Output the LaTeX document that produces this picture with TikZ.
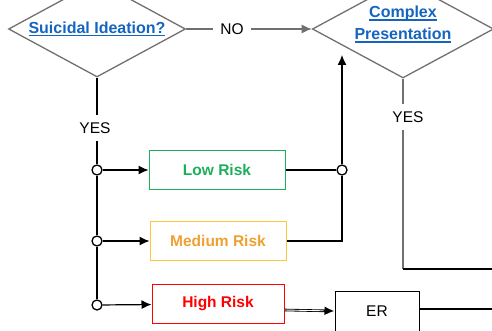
\documentclass[tikz,border=0pt]{standalone}
\usepackage{fontspec}
\setmainfont{Liberation Sans}
\usetikzlibrary{shapes.geometric,arrows.meta}

\definecolor{linkblue}{HTML}{1565C0}
\definecolor{lowgreen}{HTML}{1DAE5A}
\definecolor{medtext}{HTML}{F0A030}
\definecolor{medline}{HTML}{F9C93C}
\definecolor{highred}{HTML}{FF0000}
\definecolor{flowgray}{HTML}{707070}

\newcommand{\flowsize}{\fontsize{15.5}{22}\selectfont}
\newsavebox{\linkbox}
\newcommand{\linktext}[1]{\textcolor{linkblue}{\sbox{\linkbox}{#1}\rlap{\rule[-3pt]{\wd\linkbox}{1.4pt}}\usebox{\linkbox}}}

\tikzset{
    question/.style={diamond, draw=flowgray, line width=1.3pt, inner sep=0pt, aspect=1.85,
        minimum width=177pt, minimum height=96pt, font=\fontsize{16}{22}\selectfont\bfseries, align=center},
    riskbox/.style={draw, line width=1pt, minimum width=136pt, minimum height=39pt, font=\flowsize\bfseries},
    answer/.style={inner sep=7pt, font=\flowsize},
    joint/.style={circle, draw, line width=1.3pt, fill=white, inner sep=0pt, minimum size=10pt},
    arr/.style={-{Latex[length=10pt,width=9pt]}},
    flow/.style={line width=1.2pt}
}

\begin{document}
\begin{tikzpicture}[x=1pt, y=1pt]
    \useasboundingbox (0,0) rectangle (492,330);
    % questions
    \node[question] (ideation) at (97,301) {\linktext{Suicidal Ideation?}};
    \node[question, minimum width=180pt, minimum height=94pt, text depth=12pt] (complex) at (403,301) {\linktext{Complex}\\\linktext{Presentation}};
    \node[answer] (no) at (232,301) {NO};
    \node[answer] (yes1) at (95,202) {YES};
    \node[answer] (yes2) at (408,213) {YES};
    % risk levels
    \node[riskbox, draw=lowgreen, text=lowgreen] (low) at (217,160) {Low Risk};
    \node[riskbox, draw=medline, text=medtext] (medium) at (218,89) {Medium Risk};
    \node[riskbox, draw=highred, text=highred, minimum width=132pt] (high) at (218,26) {High Risk};
    \node[draw, line width=1pt, minimum width=84pt, minimum height=40pt, font=\flowsize] (er) at (377,19) {ER};
    % junctions
    \node[joint] (j1) at (97,160) {};
    \node[joint] (j2) at (97,89) {};
    \node[joint] (j3) at (97,25) {};
    \node[joint] (j4) at (342,160) {};
    \coordinate (tip) at (342,275);
    \coordinate (edge1) at (495,61);
    \coordinate (edge2) at (495,21);

    \draw[flow, flowgray] (ideation.east) -- (no.west);
    \draw[flow, flowgray, arr] (no.east) -- (complex.west);
    \draw[flow] (ideation.south) -- (yes1.north -| ideation.south);
    \draw[flow] (yes1.south -| j1) -- (j1);
    \draw[flow] (j1) -- (j2);
    \draw[flow] (j2) -- (j3);
    \draw[flow, arr] (j1) -- (low);
    \draw[flow, arr] (j2) -- (medium);
    \draw[flow, arr] (j3) -- (high);
    \draw[flow] (low) -- (j4);
    \draw[flow] (medium.east) -| (j4);
    \draw[flow, arr] (j4) -- (tip);
    % double link into ER
    \draw[line width=2.6pt, arr] ([yshift=-6pt]high.east) -- (er.west);
    \draw[white, line width=0.9pt, shorten >=11pt] ([yshift=-6pt]high.east) -- (er.west);
    \draw[flow] (er.east |- edge2) -- (edge2);
    \draw[flow, flowgray] (complex.south) -- (complex.south |- yes2.north);
    \draw[flow, flowgray] (complex.south |- yes2.south) -- (complex.south |- edge1);
    \draw[flow] (complex.south |- edge1) -- (edge1);
\end{tikzpicture}
\end{document}
